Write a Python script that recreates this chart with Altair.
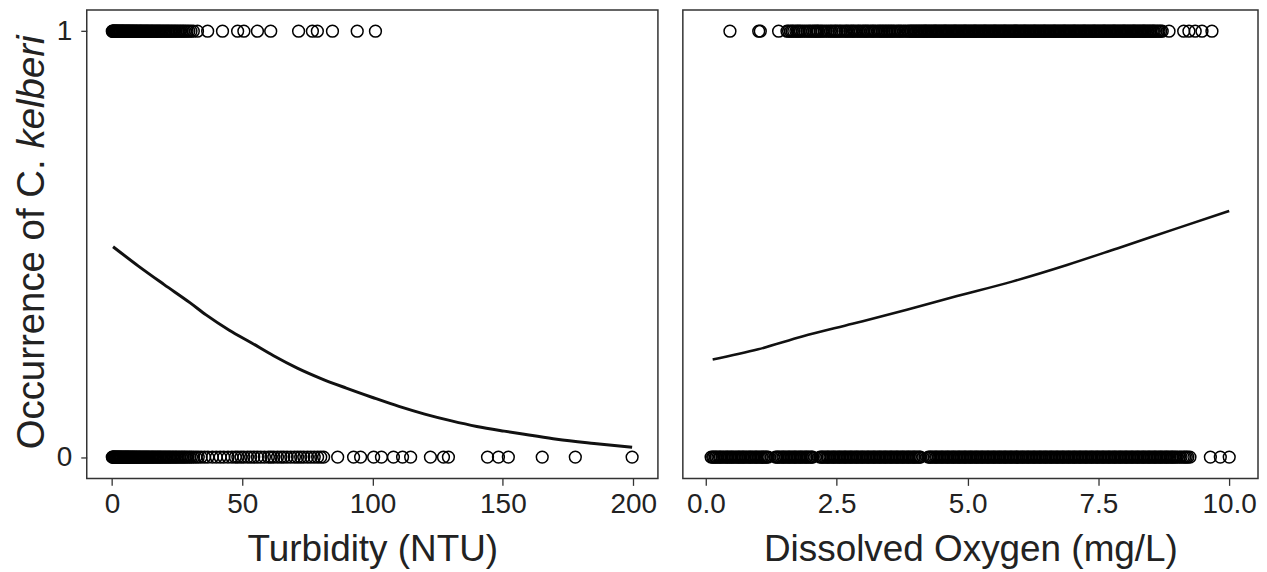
import altair as alt
import pandas as pd

# ---------------- data ----------------
# Turbidity (NTU) of sites where C. kelberi was present (1) / absent (0)
turb_present = [0.1, 0.3, 0.5, 0.7, 0.9, 1.1, 1.4, 1.6, 1.8, 2.1, 2.3, 2.6, 2.9, 3.1, 3.4, 3.7,
                 4.0, 4.2, 4.5, 4.8, 5.1, 5.4, 5.7, 6.0, 6.3, 6.6, 6.9, 7.2, 7.6, 7.9, 8.2, 8.6,
                 8.9, 9.3, 9.6, 10.0, 10.4, 10.8, 11.1, 11.5, 11.9, 12.3, 12.7, 13.1, 13.5, 13.9,
                 14.3, 14.8, 15.2, 15.6, 16.1, 16.5, 17.0, 17.4, 17.9, 18.3, 18.8, 19.3, 19.8,
                 20.3, 20.8, 21.3, 21.8, 22.3, 22.9, 23.4, 24.0, 24.5, 25.1, 25.7, 26.3, 26.9,
                 27.5, 28.1, 28.8, 29.5, 30.3, 31.2, 32.8, 36.7, 42.4, 48.2, 50.6, 55.8, 60.9,
                 71.6, 76.9, 78.8, 84.6, 94.1, 101.1]
turb_absent = [0.1, 0.3, 0.5, 0.7, 0.9, 1.2, 1.4, 1.7, 1.9, 2.2, 2.4, 2.7, 3.0, 3.2, 3.5, 3.8,
               4.1, 4.4, 4.7, 5.0, 5.3, 5.6, 5.9, 6.2, 6.5, 6.8, 7.1, 7.5, 7.8, 8.1, 8.5, 8.8,
               9.2, 9.5, 9.9, 10.3, 10.6, 11.0, 11.4, 11.8, 12.2, 12.6, 13.0, 13.4, 13.8, 14.2,
               14.6, 15.1, 15.5, 15.9, 16.4, 16.8, 17.3, 17.7, 18.2, 18.6, 19.1, 19.6, 20.1,
               20.6, 21.1, 21.6, 22.1, 22.6, 23.2, 23.7, 24.3, 24.8, 25.4, 26.0, 26.6, 27.2,
               27.8, 28.4, 29.1, 29.8, 30.5, 31.3, 32.2, 33.1, 34.2, 35.5, 36.8, 38.5, 40.0,
               41.5, 42.9, 44.5, 46.0, 47.3, 48.3, 49.5, 50.6, 52.0, 53.2, 54.4, 55.8, 57.1,
               58.5, 60.0, 61.0, 62.1, 63.5, 64.8, 65.9, 67.2, 68.6, 70.0, 71.2, 72.4, 73.6,
               75.0, 76.3, 77.6, 78.9, 80.1, 81.2, 86.6, 92.7, 95.4, 100.4, 103.4, 108.0,
               111.5, 114.6, 122.2, 127.2, 129.1, 144.1, 148.3, 152.1, 165.1, 177.8, 199.6]

# Dissolved oxygen (mg/L) of sites where C. kelberi was present (1) / absent (0)
do_present = [0.46, 1.01, 1.04, 1.39, 1.55, 1.62, 1.68, 1.75, 1.81, 1.89, 1.97, 2.04, 2.10,
              2.15, 2.22, 2.30, 2.38, 2.45, 2.51, 2.58, 2.66, 2.72, 2.79, 2.85, 2.92, 2.99,
              3.05, 3.11, 3.18, 3.24, 3.31, 3.37, 3.43, 3.49, 3.55, 3.61, 3.68, 3.74, 3.81,
              3.88, 3.93, 3.98, 4.03, 4.08, 4.13, 4.18, 4.22, 4.27, 4.32, 4.37, 4.41, 4.46,
              4.51, 4.56, 4.60, 4.65, 4.70, 4.75, 4.79, 4.84, 4.89, 4.94, 4.98, 5.03, 5.08,
              5.13, 5.17, 5.22, 5.27, 5.32, 5.36, 5.41, 5.46, 5.51, 5.55, 5.60, 5.65, 5.70,
              5.74, 5.79, 5.84, 5.89, 5.93, 5.98, 6.03, 6.08, 6.12, 6.17, 6.22, 6.27, 6.31,
              6.36, 6.41, 6.46, 6.50, 6.55, 6.60, 6.65, 6.69, 6.74, 6.79, 6.84, 6.88, 6.93,
              6.98, 7.03, 7.07, 7.12, 7.17, 7.22, 7.26, 7.31, 7.36, 7.41, 7.45, 7.50, 7.55,
              7.60, 7.64, 7.69, 7.74, 7.79, 7.83, 7.88, 7.93, 7.98, 8.02, 8.07, 8.12, 8.17,
              8.21, 8.26, 8.31, 8.36, 8.40, 8.45, 8.50, 8.55, 8.60, 8.66, 8.72, 8.85, 9.13,
              9.23, 9.35, 9.48, 9.67]
do_present_more = [1.58, 1.65, 1.72, 1.78, 1.85, 1.93, 2.00, 2.07, 2.13, 2.19, 2.26, 2.34,
                   2.41, 2.48, 2.55, 2.62, 2.69, 2.76, 2.82, 2.89, 2.95, 3.02, 3.08, 3.15,
                   3.21, 3.28, 3.34, 3.40, 3.46, 3.52, 3.58, 3.65, 3.71, 3.78, 3.85, 3.91,
                   3.96, 4.01, 4.06, 4.11, 4.16, 4.20, 4.25, 4.30, 4.35, 4.39, 4.44, 4.49,
                   4.54, 4.58, 4.63, 4.68, 4.73, 4.77, 4.82, 4.87, 4.92, 4.96, 5.01, 5.06,
                   5.11, 5.15, 5.20, 5.25, 5.30, 5.34, 5.39, 5.44, 5.49, 5.53, 5.58, 5.63,
                   5.68, 5.72, 5.77, 5.82, 5.87, 5.91, 5.96, 6.01, 6.06, 6.10, 6.15, 6.20,
                   6.25, 6.29, 6.34, 6.39, 6.44, 6.48, 6.53, 6.58, 6.63, 6.67, 6.72, 6.77,
                   6.82, 6.86, 6.91, 6.96, 7.01, 7.05, 7.10, 7.15, 7.20, 7.24, 7.29, 7.34,
                   7.39, 7.43, 7.48, 7.53, 7.58, 7.62, 7.67, 7.72, 7.77, 7.81, 7.86, 7.91,
                   7.96, 8.00, 8.05, 8.10, 8.15, 8.19, 8.24, 8.29, 8.34, 8.38, 8.43, 8.48,
                   8.53, 8.57, 8.63, 8.69]
do_absent = [0.10, 0.15, 0.20, 0.26, 0.31, 0.37, 0.42, 0.48, 0.53, 0.59, 0.64, 0.70, 0.75,
             0.81, 0.86, 0.92, 0.97, 1.03, 1.08, 1.14, 1.19, 1.33, 1.38, 1.44, 1.49, 1.55,
             1.60, 1.66, 1.71, 1.77, 1.82, 1.88, 1.93, 1.99, 2.04, 2.18, 2.23, 2.29, 2.34,
             2.40, 2.45, 2.51, 2.56, 2.62, 2.67, 2.73, 2.78, 2.84, 2.89, 2.95, 3.00, 3.06,
             3.11, 3.17, 3.22, 3.28, 3.33, 3.39, 3.44, 3.50, 3.55, 3.61, 3.66, 3.72, 3.77,
             3.83, 3.88, 3.94, 3.99, 4.05, 4.10, 4.25, 4.30, 4.36, 4.41, 4.47, 4.52, 4.58,
             4.63, 4.69, 4.74, 4.80, 4.85, 4.91, 4.96, 5.02, 5.07, 5.13, 5.18, 5.24, 5.29,
             5.35, 5.40, 5.46, 5.51, 5.57, 5.62, 5.68, 5.73, 5.79, 5.84, 5.90, 5.95, 6.01,
             6.06, 6.12, 6.17, 6.23, 6.28, 6.34, 6.39, 6.45, 6.50, 6.56, 6.61, 6.67, 6.72,
             6.78, 6.83, 6.89, 6.94, 7.00, 7.05, 7.11, 7.16, 7.22, 7.27, 7.33, 7.38, 7.44,
             7.49, 7.55, 7.60, 7.66, 7.71, 7.77, 7.82, 7.88, 7.93, 7.99, 8.04, 8.10, 8.15,
             8.21, 8.26, 8.32, 8.37, 8.43, 8.48, 8.54, 8.59, 8.65, 8.70, 8.76, 8.81, 8.87,
             8.92, 8.98, 9.05, 9.12, 9.18, 9.25, 9.64, 9.83, 10.0]
do_absent_more = [0.13, 0.18, 0.23, 0.28, 0.34, 0.40, 0.45, 0.50, 0.56, 0.62, 0.67, 0.72,
                  0.78, 0.84, 0.89, 0.95, 1.00, 1.06, 1.11, 1.16, 1.36, 1.41, 1.47, 1.52,
                  1.58, 1.63, 1.69, 1.74, 1.80, 1.85, 1.91, 1.96, 2.02, 2.21, 2.26, 2.32,
                  2.37, 2.43, 2.48, 2.54, 2.59, 2.65, 2.70, 2.76, 2.81, 2.87, 2.92, 2.98,
                  3.03, 3.09, 3.14, 3.20, 3.25, 3.31, 3.36, 3.42, 3.47, 3.53, 3.58, 3.64,
                  3.69, 3.75, 3.80, 3.86, 3.91, 3.97, 4.02, 4.08, 4.28, 4.33, 4.39, 4.44,
                  4.50, 4.55, 4.61, 4.66, 4.72, 4.77, 4.83, 4.88, 4.94, 4.99, 5.05, 5.10,
                  5.16, 5.21, 5.27, 5.32, 5.38, 5.43, 5.49, 5.54, 5.60, 5.65, 5.71, 5.76,
                  5.82, 5.87, 5.93, 5.98, 6.04, 6.09, 6.15, 6.20, 6.26, 6.31, 6.37, 6.42,
                  6.48, 6.53, 6.59, 6.64, 6.70, 6.75, 6.81, 6.86, 6.92, 6.97, 7.03, 7.08,
                  7.14, 7.19, 7.25, 7.30, 7.36, 7.41, 7.47, 7.52, 7.58, 7.63, 7.69, 7.74,
                  7.80, 7.85, 7.91, 7.96, 8.02, 8.07, 8.13, 8.18, 8.24, 8.29, 8.35, 8.40,
                  8.46, 8.51, 8.57, 8.62, 8.68, 8.73, 8.79, 8.84, 8.90, 8.95, 9.01, 9.08,
                  9.15, 9.21]

# fitted logistic curves
turb_curve_x = [0.4, 10, 20, 30, 36.1, 45, 53.6, 62, 71.1, 80, 89.9, 100, 110.1, 120, 130.3,
                140, 150.5, 160, 170.7, 185, 199.6]
turb_curve_p = [0.494, 0.449, 0.405, 0.362, 0.334, 0.298, 0.268, 0.238, 0.209, 0.185, 0.162,
                0.140, 0.119, 0.101, 0.085, 0.072, 0.061, 0.052, 0.042, 0.032, 0.023]
do_curve_x = [0.13, 1.0, 1.84, 2.8, 3.84, 4.8, 5.85, 6.9, 7.86, 9.0, 10.0]
do_curve_p = [0.229, 0.253, 0.283, 0.313, 0.346, 0.378, 0.412, 0.451, 0.490, 0.537, 0.578]

y_ticks = [0, 1]
turb_ticks = [0, 50, 100, 150, 200]
do_ticks = [0, 2.5, 5, 7.5, 10]
y_title_plain = "Occurrence of C."
y_title_italic = "kelberi"

# ---------------- chart ----------------
FONT = "Liberation Sans"
TXT = "#222222"

do_p_all = do_present + do_present_more
do_a_all = do_absent + do_absent_more
pts_t = pd.DataFrame({"x": turb_present + turb_absent,
                      "occ": [1] * len(turb_present) + [0] * len(turb_absent)})
pts_d = pd.DataFrame({"x": do_p_all + do_a_all,
                      "occ": [1] * len(do_p_all) + [0] * len(do_a_all)})
cur_t = pd.DataFrame({"x": turb_curve_x, "p": turb_curve_p})
cur_d = pd.DataFrame({"x": do_curve_x, "p": do_curve_p})

y_scale = alt.Scale(domain=[-0.05, 1.05], nice=False, zero=False)
xt_scale = alt.Scale(domain=[-9.7, 209.5], nice=False, zero=False)
xd_scale = alt.Scale(domain=[-0.44, 10.55], nice=False, zero=False)

def x_axis(title, values, fmt):
    return alt.Axis(values=values, format=fmt, title=title, grid=False, domain=False,
                    tickSize=7, tickWidth=1.3, tickColor="#333333", labelPadding=5,
                    labelFontSize=28, labelFont=FONT, labelColor=TXT,
                    titleFontSize=37, titleFont=FONT, titleFontWeight="normal",
                    titleColor=TXT, titlePadding=13)

y_axis_left = alt.Axis(values=y_ticks, format="d", title=None, grid=False, domain=False,
                       tickSize=6, tickWidth=1.3, tickColor="#333333", labelPadding=9,
                       labelFontSize=28, labelFont=FONT, labelColor=TXT)

W_L, W_R, H = 573, 577, 470

pt_kw = dict(shape="circle", filled=False, size=140, color="black", strokeWidth=1.5, opacity=1)

left_pts = alt.Chart(pts_t).mark_point(**pt_kw).encode(
    x=alt.X("x:Q", scale=xt_scale, axis=x_axis("Turbidity (NTU)", turb_ticks, "d")),
    y=alt.Y("occ:Q", scale=y_scale, axis=y_axis_left),
)
left_line = alt.Chart(cur_t).mark_line(color="#111111", strokeWidth=3,
                                       interpolate="monotone").encode(
    x=alt.X("x:Q", scale=xt_scale), y=alt.Y("p:Q", scale=y_scale))

t1 = alt.Chart(pd.DataFrame({"t": [y_title_plain]})).mark_text(
    angle=270, align="right", baseline="alphabetic", fontSize=38.5, font=FONT, color=TXT
).encode(x=alt.value(-43), y=alt.value(150), text="t:N")
t2 = alt.Chart(pd.DataFrame({"t": [y_title_italic]})).mark_text(
    angle=270, align="left", baseline="alphabetic", fontSize=38.5, font=FONT, color=TXT,
    fontStyle="italic"
).encode(x=alt.value(-43), y=alt.value(139), text="t:N")

left = alt.layer(left_pts, left_line, t1, t2).properties(width=W_L, height=H)

right_pts = alt.Chart(pts_d).mark_point(**pt_kw).encode(
    x=alt.X("x:Q", scale=xd_scale, axis=x_axis("Dissolved Oxygen (mg/L)", do_ticks, ".1f")),
    y=alt.Y("occ:Q", scale=y_scale, axis=None),
)
right_line = alt.Chart(cur_d).mark_line(color="#111111", strokeWidth=2.6,
                                        interpolate="monotone").encode(
    x=alt.X("x:Q", scale=xd_scale), y=alt.Y("p:Q", scale=y_scale))

right = alt.layer(right_pts, right_line).properties(width=W_R, height=H)

chart = alt.hconcat(left, right, spacing=23).properties(
    padding={"left": 4, "top": 0, "right": 0, "bottom": 0},
    background="white",
).configure_view(stroke="#333333", strokeWidth=1.5)

chart.save("out.html", embed_options={"renderer": "svg", "actions": False})
